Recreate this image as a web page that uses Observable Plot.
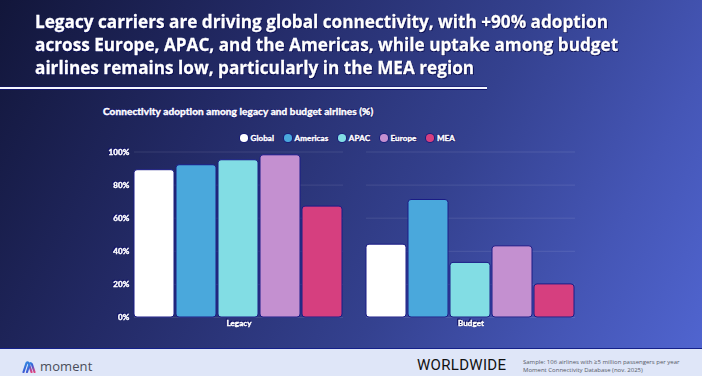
<!DOCTYPE html>
<html>
<head>
<meta charset="utf-8">
<script src="https://cdn.jsdelivr.net/npm/d3@7"></script>
<script src="https://cdn.jsdelivr.net/npm/@observablehq/plot@0.6"></script>
<style>
  html, body { margin: 0; padding: 0; }
  body { width: 702px; height: 376px; overflow: hidden; }
  #page {
    position: relative; width: 702px; height: 376px; overflow: hidden;
    background: linear-gradient(118deg, #12163a 0%, #232a66 30%, #34418f 60%, #4556b6 82%, #5166d2 100%);
    font-family: "Lato", sans-serif;
  }
  #title {
    position: absolute; left: 35px; top: 10px; color: #fff;
    font-family: "Open Sans", sans-serif; font-weight: 700; font-size: 18px; line-height: 23px;
    transform-origin: 0 0; white-space: nowrap; -webkit-text-stroke: 0.3px #fff;
    text-shadow: 1px 1px 0 #0c0f55, -0.5px -0.5px 0 #0c0f55, 0.5px -0.5px 0 #0c0f55, -0.5px 0.5px 0 #0c0f55;
  }
  #title span { display: inline-block; }
  #rule {
    position: absolute; left: 0; top: 87px; width: 487px; height: 1.5px; background: #f4f6ff;
    box-shadow: 0 1px 0 #10136a, 0 -0.5px 0 #10136a;
  }
  #subtitle {
    position: absolute; left: 103px; top: 104px; color: #fff; font-weight: 700; font-size: 10px; line-height: 14px;
    -webkit-text-stroke: 0.45px #fff; letter-spacing: 0.1px;
    text-shadow: 0.8px 0.8px 0 #141769, -0.6px -0.6px 0 #141769, 0.6px -0.6px 0 #141769, -0.6px 0.6px 0 #141769;
    white-space: nowrap;
  }
  #legend {
    position: absolute; left: 240px; top: 132px; display: flex; gap: 10px; align-items: center;
    color: #fff; font-weight: 700; font-size: 8px; line-height: 12px;
  }
  #legend .item { display: flex; align-items: center; gap: 3px; }
  #legend .dot { width: 7.5px; height: 7.5px; border-radius: 50%; box-shadow: 0 0 0 0.8px #15187a; }
  #legend .lab { -webkit-text-stroke: 0.4px #fff; letter-spacing: 0.1px;
    text-shadow: 0.7px 0.7px 0 #141769, -0.6px -0.6px 0 #141769, 0.6px -0.6px 0 #141769, -0.6px 0.6px 0 #141769; }
  #chart { position: absolute; left: 0; top: 140px; }
  #chart svg text { stroke: #ffffff; stroke-width: 0.45px; letter-spacing: 0.1px; }
  #chart svg g[aria-label$="tick label"] {
    filter: drop-shadow(0.7px 0.7px 0 #141769) drop-shadow(-0.6px -0.6px 0 #141769);
  }
  #footer {
    position: absolute; left: 0; top: 348px; width: 702px; height: 28px; background: #dfe6f8;
    border-top: 1.5px solid #14208a; box-sizing: border-box;
  }
  #logo { position: absolute; left: 22px; top: 11px; display: flex; align-items: center; gap: 4px; }
  #logo .word { font-family: "Open Sans", sans-serif; font-size: 13px; color: #4a4d5a; letter-spacing: 0.1px; line-height: 13px; }
  #region { position: absolute; left: 417px; top: 7px; font-family: "Roboto", sans-serif; font-size: 15px; line-height: 18px; color: #111; letter-spacing: 0.3px; }
  #caption { position: absolute; left: 523px; top: 9px; font-family: "Open Sans", sans-serif; font-size: 6px; line-height: 8px; color: #555a66; white-space: nowrap; }
  #caption div { height: 8px; }
</style>
</head>
<body>
<div id="page">
  <div id="title"></div>
  <div id="rule"></div>
  <div id="subtitle"></div>
  <div id="legend"></div>
  <div id="chart"></div>
  <div id="footer">
    <div id="logo">
      <svg width="14" height="12" viewBox="0 0 14 12">
        <defs>
          <linearGradient id="lg" x1="0" y1="0" x2="1" y2="1">
            <stop offset="0" stop-color="#2fa3e6"/><stop offset="0.5" stop-color="#3c5bd6"/><stop offset="1" stop-color="#e0407e"/>
          </linearGradient>
        </defs>
        <path d="M1.5 11 L4.5 2 Q5.5 0.5 6.5 2 L9.5 11" fill="none" stroke="url(#lg)" stroke-width="2.2" stroke-linecap="round"/>
        <path d="M5 11 L7.5 3 Q8.5 1 9.8 3 L12.5 11" fill="none" stroke="url(#lg)" stroke-width="2.2" stroke-linecap="round"/>
      </svg>
      <span class="word">moment</span>
    </div>
    <div id="region"></div>
    <div id="caption"></div>
  </div>
</div>
<script>
// ---- Text ----
const titleLines = [
  "Legacy carriers are driving global connectivity, with +90% adoption",
  "across Europe, APAC, and the Americas, while uptake among budget",
  "airlines remains low, particularly in the MEA region"
];
const chartSubtitle = "Connectivity adoption among legacy and budget airlines (%)";
const regionLabel = "WORLDWIDE";
const captionLines = [
  "Sample: 106 airlines with \u22655 million passengers per year",
  "Moment Connectivity Database (nov. 2025)"
];

// ---- Data ----
const groups = ["Legacy", "Budget"];
const regions = ["Global", "Americas", "APAC", "Europe", "MEA"];
const legacyValues = [89, 92, 95, 98, 67];
const budgetValues = [44, 71, 33, 43, 20];
const regionColors = ["#ffffff", "#4aa8dc", "#82dde4", "#c490d0", "#d63f7f"];
const yTicks = [0, 20, 40, 60, 80, 100];
const yTickLabels = ["0%", "20%", "40%", "60%", "80%", "100%"];

const seriesByGroup = [legacyValues, budgetValues];
const data = groups.flatMap((g, gi) =>
  regions.map((r, ri) => ({group: g, region: r, value: seriesByGroup[gi][ri]}))
);

// ---- HTML text ----
const titleEl = document.getElementById("title");
titleLines.forEach(t => {
  const d = document.createElement("div");
  const s = document.createElement("span");
  s.textContent = t;
  d.appendChild(s);
  titleEl.appendChild(d);
});
const firstW = titleEl.querySelector("span").getBoundingClientRect().width;
titleEl.style.transform = `scaleX(${573 / firstW})`;

document.getElementById("subtitle").textContent = chartSubtitle;
document.getElementById("region").textContent = regionLabel;
const capEl = document.getElementById("caption");
captionLines.forEach(t => {
  const d = document.createElement("div");
  d.textContent = t;
  capEl.appendChild(d);
});

const legendEl = document.getElementById("legend");
regions.forEach((r, i) => {
  const it = document.createElement("div");
  it.className = "item";
  const dot = document.createElement("div");
  dot.className = "dot";
  dot.style.background = regionColors[i];
  const lab = document.createElement("span");
  lab.className = "lab";
  lab.textContent = r;
  it.appendChild(dot); it.appendChild(lab);
  legendEl.appendChild(it);
});

// ---- Chart ----
let gridMark;
try {
  gridMark = Plot.ruleY(yTicks, {stroke: "#ffffff", strokeOpacity: 0.1, strokeWidth: 1.2, facet: "super"});
} catch (e) {
  gridMark = Plot.gridY(yTicks, {stroke: "#ffffff", strokeOpacity: 0.1});
}

const chart = Plot.plot({
  width: 702,
  height: 200,
  marginTop: 11.5,
  marginBottom: 23,
  marginLeft: 133,
  marginRight: 127,
  style: {background: "transparent", color: "#ffffff", fontFamily: "Lato, sans-serif", fontSize: "8px", fontWeight: 700, overflow: "visible"},
  fx: {domain: groups, paddingInner: 0.1, paddingOuter: 0, axis: "bottom", label: null, tickSize: 0, tickPadding: 3},
  x: {domain: regions, paddingInner: 0.045, paddingOuter: 0, axis: null},
  y: {domain: [0, 100], ticks: yTicks, tickFormat: (d, i) => yTickLabels[i], label: null, tickSize: 0, tickPadding: 5},
  color: {domain: regions, range: regionColors},
  marks: [
    gridMark,
    Plot.barY(data, {fx: "group", x: "region", y: "value", fill: "region", stroke: "#1b1c86", strokeWidth: 1, rx: 3})
  ]
});
document.getElementById("chart").appendChild(chart);
</script>
</body>
</html>
